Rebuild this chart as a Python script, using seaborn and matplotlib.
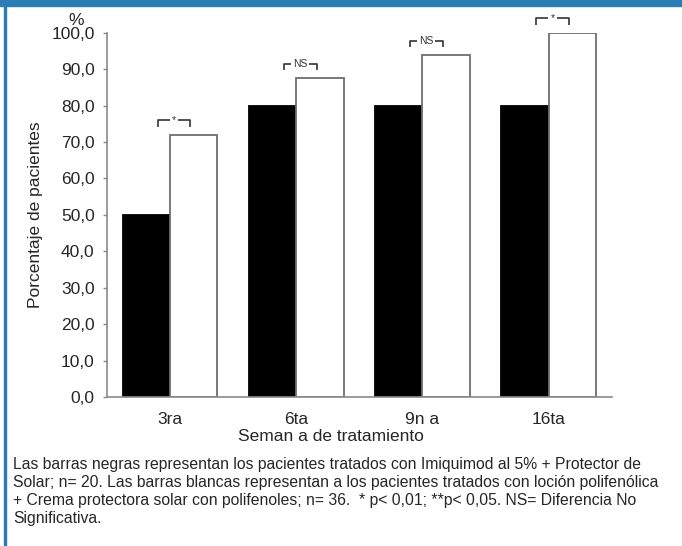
import matplotlib
matplotlib.use("Agg")
import matplotlib.pyplot as plt
import matplotlib.patches as mpatches
from matplotlib.ticker import FuncFormatter, MultipleLocator
import numpy as np
import pandas as pd
import seaborn as sns

# --- data ---
weeks = ["3ra", "6ta", "9n a", "16ta"]
groups = ["Imiquimod + Protector", "Loción polifenólica + Crema"]
black_vals = [50.0, 80.0, 80.0, 80.0]
white_vals = [72.0, 87.5, 93.8, 100.0]
sig_labels = ["*", "NS", "NS", "*"]

caption_lines = [
    "Las barras negras representan los pacientes tratados con Imiquimod al 5% + Protector de",
    "Solar; n= 20. Las barras blancas representan a los pacientes tratados con loción polifenólica",
    "+ Crema protectora solar con polifenoles; n= 36.  * p< 0,01; **p< 0,05. NS= Diferencia No",
    "Significativa.",
]

df = pd.DataFrame({
    "semana": weeks * 2,
    "grupo": [groups[0]] * len(weeks) + [groups[1]] * len(weeks),
    "pct": black_vals + white_vals,
})

sns.set_style("white")
plt.rcParams["font.family"] = ["Liberation Sans", "DejaVu Sans"]
txt = "#262626"
grey = "#8a8a8a"
fs = 12.5

fig = plt.figure(figsize=(6.82, 5.46), dpi=100)
ax = fig.add_axes([0.157, 0.273, 0.740, 0.667])

sns.barplot(
    data=df, x="semana", y="pct", hue="grupo", order=weeks, hue_order=groups,
    palette=["black", "white"], width=0.75, edgecolor="#6e6e6e", linewidth=1.3,
    legend=False, ax=ax,
)
for bar in ax.patches[:len(weeks)]:
    bar.set_edgecolor("black")

ax.set_xlim(-0.5, len(weeks) - 0.5)
ax.set_ylim(0, 100)
ax.yaxis.set_major_locator(MultipleLocator(10))
ax.yaxis.set_major_formatter(FuncFormatter(lambda v, p: f"{v:.1f}".replace(".", ",")))
ax.set_xticks(np.arange(-0.5, len(weeks)), minor=True)
ax.tick_params(axis="x", which="major", length=0, labelsize=fs, labelcolor=txt, pad=11)
ax.tick_params(axis="x", which="minor", length=4.5, color=grey, width=1)
ax.tick_params(axis="y", length=3, color=grey, width=1, labelsize=fs,
               labelcolor=txt, pad=6, left=True)

for side in ["top", "right"]:
    ax.spines[side].set_visible(False)
for side in ["left", "bottom"]:
    ax.spines[side].set_color(grey)
    ax.spines[side].set_linewidth(1.2)

ax.set_xlabel("Seman a de tratamiento", fontsize=fs, color=txt, va="top")
ax.xaxis.set_label_coords(0.4436, -0.088)
ax.set_ylabel("Porcentaje de pacientes", fontsize=fs, color=txt)
ax.yaxis.set_label_coords(-0.127, 0.5)
ax.text(-0.061, 102.2, "%", ha="center", va="baseline", fontsize=fs, color=txt,
        transform=ax.get_yaxis_transform(), clip_on=False)

# significance brackets above each pair
half = 0.13
for i, (lab, top) in enumerate(zip(sig_labels, white_vals)):
    xc = i + 0.03
    yb = top + 4.0
    gap = 0.035 if lab == "*" else 0.07
    kw = dict(color="#333333", lw=1.2, clip_on=False, solid_capstyle="butt")
    ax.plot([xc - half, xc - half, xc - gap], [yb - 1.8, yb, yb], **kw)
    ax.plot([xc + gap, xc + half, xc + half], [yb, yb, yb - 1.8], **kw)
    ax.text(xc, yb, lab, ha="center", va="center", fontsize=7.5, color="#333333",
            clip_on=False)

# caption
for k, line in enumerate(caption_lines):
    fig.text(0.019, (546 - 464 - 18 * k) / 546, line, ha="left", va="center",
             fontsize=11.3, color=txt)

# blue frame of the figure panel
frame = "#2a7db4"
fig.patches.append(mpatches.Rectangle((0, 1 - 6 / 546), 1, 6 / 546,
                                      transform=fig.transFigure, color=frame, zorder=5))
fig.patches.append(mpatches.Rectangle((4 / 682, 0), 2 / 682, 1,
                                      transform=fig.transFigure, color=frame, zorder=5))

fig.savefig("out.png", dpi=100, facecolor="white")
plt.close(fig)
